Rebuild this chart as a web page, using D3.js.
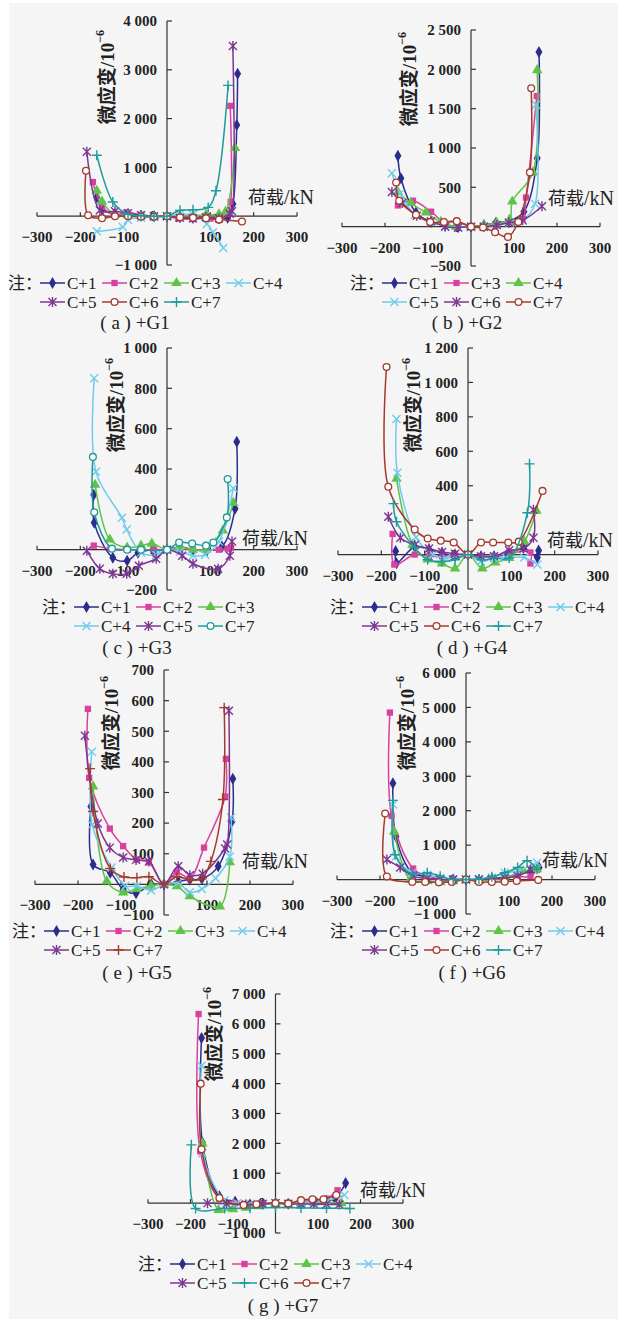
<!DOCTYPE html>
<html>
<head>
<meta charset="utf-8">
<script src="https://cdn.jsdelivr.net/npm/d3@7"></script>
<style>
  body { margin: 0; background: #fff; }
</style>
</head>
<body>
<svg id="chart" width="631" height="1319"></svg>
<script>
// ---- data: each series is a list of [load kN, micro strain] ----
const xTicks = [-300, -200, -100, 100, 200, 300];

const labelsG1 = ["C+1", "C+2", "C+3", "C+4", "C+5", "C+6", "C+7"];
const yTicksG1 = [-1000, 0, 1000, 2000, 3000, 4000];
const seriesG1 = [
  [[-162,390],[-150,150],[-120,40],[-90,10],[-60,10],[-30,0],[0,0],[30,-10],[60,-30],[90,-20],[120,-40],[140,-30],[152,250],[161,1870],[163,2920]],
  [[-171,700],[-150,200],[-120,25],[-93,80],[-60,30],[-30,0],[0,0],[26,-50],[60,-60],[100,-50],[120,-80],[140,50],[147,290],[146,2260]],
  [[-162,520],[-150,300],[-120,30],[-90,20],[-60,10],[-30,0],[0,0],[30,0],[60,10],[90,30],[120,40],[135,90],[157,1400]],
  [[-162,-310],[-102,-220],[-90,-80],[-60,-30],[-30,-10],[0,0],[30,40],[60,30],[92,-160],[106,-330],[130,-650]],
  [[-185,1320],[-155,120],[-120,100],[-90,60],[-60,20],[-30,0],[0,0],[30,-30],[60,-40],[90,-20],[120,-40],[145,50],[150,100],[152,3490]],
  [[-187,930],[-182,20],[-150,-40],[-120,0],[-90,0],[-60,-10],[-30,-10],[0,0],[30,-20],[60,-30],[90,-40],[120,-70],[173,-110]],
  [[-162,1250],[-125,290],[-90,40],[-60,10],[-30,0],[0,0],[30,120],[60,130],[95,180],[113,520],[141,2680]]
];

const labelsG2 = ["C+1", "C+3", "C+4", "C+5", "C+6", "C+7"];
const yTicksG2 = [-500, 0, 500, 1000, 1500, 2000, 2500];
const seriesG2 = [
  [[-170,900],[-163,615],[-128,180],[-93,60],[-60,20],[-30,0],[0,0],[30,20],[58,50],[88,70],[123,190],[154,870],[158,2220]],
  [[-170,270],[-135,330],[-93,190],[-63,60],[-33,60],[0,0],[28,-10],[60,20],[90,60],[120,100],[128,370],[153,1660]],
  [[-170,440],[-140,300],[-105,180],[-70,60],[-35,0],[0,0],[30,20],[60,50],[90,90],[96,320],[144,690],[154,1990]],
  [[-184,680],[-165,420],[-130,150],[-93,60],[-60,10],[-30,-10],[0,0],[30,0],[60,20],[90,50],[120,80],[149,290],[151,1550]],
  [[-184,440],[-160,300],[-126,140],[-93,70],[-60,0],[-30,-10],[0,0],[30,0],[60,20],[88,50],[120,80],[165,260]],
  [[-174,560],[-167,330],[-128,150],[-95,60],[-63,60],[-33,70],[0,0],[28,-10],[56,-70],[86,-130],[110,60],[137,690],[140,1760]]
];

const labelsG3 = ["C+1", "C+2", "C+3", "C+4", "C+5", "C+7"];
const yTicksG3 = [-200, 0, 200, 400, 600, 800, 1000];
const seriesG3 = [
  [[-169,272],[-168,134],[-125,-40],[-92,-55],[-67,-15],[-30,0],[0,0],[30,15],[60,0],[92,-5],[127,15],[157,203],[161,535]],
  [[-169,20],[-130,5],[-90,0],[-60,0],[-30,0],[0,0],[30,5],[60,0],[90,0],[120,0],[140,5],[148,10]],
  [[-166,322],[-132,50],[-92,10],[-60,20],[-35,30],[0,0],[30,15],[60,0],[90,0],[129,95],[153,232]],
  [[-168,850],[-164,386],[-104,158],[-93,100],[-60,-15],[-25,-25],[0,0],[30,-10],[60,-30],[88,-25],[120,40],[153,305]],
  [[-185,-5],[-155,-95],[-125,-120],[-93,-120],[-65,-80],[-25,-45],[0,0],[35,-30],[60,-70],[118,-95],[145,-30],[150,40]],
  [[-171,460],[-168,185],[-127,5],[-92,0],[-60,0],[0,0],[28,35],[58,30],[90,20],[107,35],[138,160],[140,350]]
];

const labelsG4 = ["C+1", "C+2", "C+3", "C+4", "C+5", "C+6", "C+7"];
const yTicksG4 = [-200, 0, 200, 400, 600, 800, 1000, 1200];
const seriesG4 = [
  [[-167,20],[-165,-50],[-123,46],[-90,30],[-60,10],[-30,-10],[0,0],[30,-10],[60,-10],[90,0],[128,40],[160,-17],[163,23]],
  [[-174,120],[-170,-58],[-123,0],[-90,-10],[-60,-10],[-30,-5],[0,0],[30,-10],[60,-10],[100,10],[144,12],[144,-52]],
  [[-165,440],[-128,58],[-93,-29],[-60,-52],[-30,-81],[0,0],[33,-81],[63,-46],[95,-20],[130,75],[158,255]],
  [[-165,788],[-163,475],[-120,100],[-80,0],[-50,-20],[0,0],[30,-40],[60,-20],[87,-17],[130,-17],[160,-58]],
  [[-184,220],[-156,98],[-123,55],[-90,35],[-60,15],[-30,5],[0,0],[30,-10],[60,-10],[95,25],[128,35],[151,98],[151,260]],
  [[-188,1090],[-184,394],[-123,145],[-93,93],[-63,81],[-33,70],[0,0],[30,70],[58,70],[93,70],[117,75],[172,370]],
  [[-172,296],[-165,191],[-123,40],[-93,-30],[-60,-40],[-30,-30],[0,0],[33,-30],[60,-20],[95,-20],[137,243],[142,527]]
];

const labelsG5 = ["C+1", "C+2", "C+3", "C+4", "C+5", "C+7"];
const yTicksG5 = [-100, 0, 100, 200, 300, 400, 500, 600, 700];
const seriesG5 = [
  [[-170,254],[-165,65],[-125,38],[-95,-16],[-65,-29],[-30,0],[0,0],[33,10],[60,15],[88,18],[126,59],[158,205],[160,345]],
  [[-177,573],[-174,348],[-126,182],[-95,125],[-63,81],[-35,72],[0,0],[30,39],[60,20],[93,120],[142,287],[144,410]],
  [[-165,320],[-133,10],[-95,-26],[-63,-15],[-30,-5],[0,0],[30,-6],[60,-39],[130,-72],[153,72]],
  [[-168,433],[-167,195],[-122,55],[-90,-5],[-63,-5],[-30,-20],[0,0],[33,5],[60,-26],[88,-15],[120,20],[153,91],[156,218]],
  [[-184,485],[-154,199],[-126,120],[-95,88],[-65,80],[-35,75],[0,0],[33,59],[60,30],[90,35],[142,117],[147,130],[151,567]],
  [[-172,378],[-165,238],[-125,52],[-93,24],[-63,22],[-35,25],[0,0],[30,25],[60,15],[88,18],[109,75],[137,277],[140,577]]
];

const labelsG6 = ["C+1", "C+2", "C+3", "C+4", "C+5", "C+6", "C+7"];
const yTicksG6 = [-1000, 0, 1000, 2000, 3000, 4000, 5000, 6000];
const seriesG6 = [
  [[-170,2800],[-163,1250],[-125,200],[-90,80],[-60,0],[-30,0],[0,0],[30,-10],[60,20],[90,80],[120,150],[150,250],[170,350]],
  [[-177,4850],[-173,1850],[-123,320],[-90,100],[-60,30],[-30,0],[0,0],[30,-10],[60,0],[90,50],[120,80],[150,100],[165,300]],
  [[-167,1390],[-130,0],[-90,-50],[-60,-80],[-30,-50],[0,0],[30,-40],[60,0],[90,50],[133,250],[165,300]],
  [[-170,2180],[-163,670],[-125,200],[-90,150],[-60,50],[-30,0],[0,0],[30,20],[60,60],[90,200],[120,250],[165,490]],
  [[-184,580],[-153,350],[-123,100],[-90,30],[-60,0],[-30,0],[0,0],[30,0],[60,20],[90,50],[120,100],[150,290]],
  [[-188,1920],[-184,90],[-125,-70],[-95,-70],[-63,-80],[-33,-70],[0,0],[30,-70],[60,-70],[90,-60],[118,-40],[168,-10]],
  [[-170,2300],[-165,720],[-125,150],[-90,200],[-60,100],[-30,0],[0,0],[30,10],[60,80],[90,200],[120,350],[142,550],[165,300]]
];

const labelsG7 = ["C+1", "C+2", "C+3", "C+4", "C+5", "C+6", "C+7"];
const yTicksG7 = [-1000, 0, 1000, 2000, 3000, 4000, 5000, 6000, 7000];
const seriesG7 = [
  [[-174,5530],[-172,2030],[-132,230],[-95,50],[-60,-50],[-30,-30],[0,0],[30,-20],[60,0],[90,50],[120,80],[140,150],[165,670]],
  [[-181,6330],[-177,1730],[-132,150],[-95,0],[-60,-50],[-30,-30],[0,0],[30,0],[60,50],[90,100],[120,150],[146,430]],
  [[-172,2000],[-134,-230],[-100,-200],[-70,-150],[-40,-100],[0,0],[30,-20],[60,0],[90,20],[120,30],[155,0]],
  [[-174,4600],[-172,1670],[-120,100],[-90,0],[-60,-30],[-30,-20],[0,0],[30,-10],[60,20],[90,40],[120,80],[162,270]],
  [[-160,0],[-115,-20],[-70,-50],[-30,-30],[0,0],[30,-30],[60,-20],[90,-30],[120,-40],[150,-50]],
  [[-198,1950],[-188,-180],[-120,-180],[-60,-170],[0,-150],[60,-160],[120,-170],[175,-180]],
  [[-176,4000],[-174,1800],[-132,170],[-75,-60],[-45,-40],[0,0],[30,-10],[60,100],[87,130],[113,130],[143,270]]
];

// ---- styles and layout ----
const colors = {
  navy: "#2b2d8e", magenta: "#d8419f", green: "#5dc448", cyan: "#6fcbec",
  purple: "#7c3692", red: "#a43a2d", teal: "#1d9b9b"
};
const S = {
  C1: ["navy", "diamond"], C2: ["magenta", "square"], C3: ["green", "triangle"],
  C4: ["cyan", "x"], C5: ["purple", "asterisk"], C6: ["red", "circle"], C7: ["teal", "plus"]
};

const panels = [
  { cap: "( a ) +G1", labels: labelsG1, series: seriesG1, yTicks: yTicksG1,
    styles: [S.C1, S.C2, S.C3, S.C4, S.C5, S.C6, S.C7],
    xr: [37, 297], yr: [265, 21], title: [114, 30], load: [248, 204],
    leg: { x: 8, rows: [283, 302], split: 4, cap: [135, 329] } },
  { cap: "( b ) +G2", labels: labelsG2, series: seriesG2, yTicks: yTicksG2,
    styles: [S.C1, S.C2, S.C3, S.C4, S.C5, S.C6],
    xr: [342, 600], yr: [266, 30], title: [416, 32], load: [548, 205],
    leg: { x: 350, rows: [283, 302], split: 3, cap: [467, 329] } },
  { cap: "( c ) +G3", labels: labelsG3, series: seriesG3, yTicks: yTicksG3,
    styles: [S.C1, S.C2, S.C3, S.C4, S.C5, ["teal", "circle"]],
    xr: [37, 297], yr: [590, 348], title: [123, 358], load: [242, 545],
    leg: { x: 42, rows: [607, 626], split: 3, cap: [137, 654] } },
  { cap: "( d ) +G4", labels: labelsG4, series: seriesG4, yTicks: yTicksG4,
    styles: [S.C1, S.C2, S.C3, S.C4, S.C5, S.C6, S.C7],
    xr: [338, 598], yr: [589, 348], title: [420, 358], load: [547, 547],
    leg: { x: 330, rows: [607, 626], split: 4, cap: [472, 654] } },
  { cap: "( e ) +G5", labels: labelsG5, series: seriesG5, yTicks: yTicksG5,
    styles: [S.C1, S.C2, S.C3, S.C4, S.C5, ["red", "plus"]],
    xr: [35, 293], yr: [915, 670], title: [118, 676], load: [242, 868],
    leg: { x: 12, rows: [931, 950], split: 4, cap: [137, 979] } },
  { cap: "( f ) +G6", labels: labelsG6, series: seriesG6, yTicks: yTicksG6,
    styles: [S.C1, S.C2, S.C3, S.C4, S.C5, S.C6, S.C7],
    xr: [337, 595], yr: [914, 673], title: [414, 676], load: [542, 867],
    leg: { x: 330, rows: [931, 950], split: 4, cap: [472, 979] } },
  { cap: "( g ) +G7", labels: labelsG7, series: seriesG7, yTicks: yTicksG7,
    styles: [S.C1, S.C2, S.C3, S.C4, S.C5, S.C7, S.C6],
    xr: [148, 403], yr: [1233, 994], title: [221, 987], load: [360, 1197],
    leg: { x: 138, rows: [1264, 1283], split: 4, cap: [283, 1312] } }
];

const serif = "'Liberation Serif', 'DejaVu Serif', serif";
const cjk = "'Noto Sans CJK SC', sans-serif";
const fmt = (d) => d3.format(",")(d).replace(/,/g, " ");

const svg = d3.select("#chart");
svg.append("rect").attr("x", 9).attr("y", 3).attr("width", 609).attr("height", 1316).attr("fill", "#f5f5f5");

function marker(g, type, color, x, y) {
  const t = `translate(${x},${y})`;
  if (type === "diamond") {
    g.append("path").attr("d", d3.symbol(d3.symbolDiamond, 42)()).attr("transform", t).attr("fill", color);
  } else if (type === "square") {
    g.append("path").attr("d", d3.symbol(d3.symbolSquare, 40)()).attr("transform", t).attr("fill", color);
  } else if (type === "triangle") {
    g.append("path").attr("d", d3.symbol(d3.symbolTriangle, 48)()).attr("transform", t).attr("fill", color);
  } else if (type === "circle") {
    g.append("circle").attr("cx", x).attr("cy", y).attr("r", 3.4)
      .attr("fill", "#fff").attr("stroke", color).attr("stroke-width", 1.3);
  } else {
    const d = type === "x" ? "M-4,-4L4,4M-4,4L4,-4"
      : type === "asterisk" ? "M-4,-4L4,4M-4,4L4,-4M0,-5V5"
      : "M-5,0H5M0,-5V5";
    g.append("path").attr("d", d).attr("transform", t)
      .attr("fill", "none").attr("stroke", color).attr("stroke-width", 1.4);
  }
}

panels.forEach((p) => {
  const g = svg.append("g");
  const yDom = d3.extent(p.yTicks);
  const x = d3.scaleLinear().domain([-300, 300]).range(p.xr);
  const y = d3.scaleLinear().domain(yDom).range(p.yr);
  const x0 = x(0), y0 = y(0);

  // axes
  const ax = g.append("g").attr("stroke", "#333").attr("stroke-width", 1.2);
  ax.append("line").attr("x1", x(-300)).attr("x2", x(300)).attr("y1", y0).attr("y2", y0);
  ax.append("line").attr("x1", x0).attr("x2", x0).attr("y1", y(yDom[0])).attr("y2", y(yDom[1]));
  [-300, -200, -100, 0, 100, 200, 300].forEach((t) => {
    ax.append("line").attr("x1", x(t)).attr("x2", x(t)).attr("y1", y0 - 4).attr("y2", y0);
  });
  p.yTicks.forEach((t) => {
    ax.append("line").attr("x1", x0).attr("x2", x0 + 5).attr("y1", y(t)).attr("y2", y(t));
  });

  g.selectAll(".xt").data(xTicks).join("text")
    .attr("x", (d) => x(d)).attr("y", y0 + 26)
    .attr("text-anchor", "middle").attr("font-family", serif).attr("font-weight", "bold")
    .attr("font-size", 15).attr("fill", "#222").text(fmt);
  g.selectAll(".yt").data(p.yTicks).join("text")
    .attr("x", x0 - 10).attr("y", (d) => y(d)).attr("dy", "0.35em")
    .attr("text-anchor", "end").attr("font-family", serif).attr("font-weight", "bold")
    .attr("font-size", 15).attr("fill", "#222").text(fmt);

  // axis titles
  const tt = g.append("text").attr("transform", `translate(${p.title[0]},${p.title[1]}) rotate(-90)`)
    .attr("text-anchor", "end").attr("font-size", 19).attr("font-weight", "bold").attr("fill", "#222");
  tt.append("tspan").attr("font-family", cjk).text("微应变");
  tt.append("tspan").attr("font-family", serif).text("/10");
  tt.append("tspan").attr("font-family", serif).attr("font-size", 12).attr("dy", "-0.8em").text("−6");

  const lt = g.append("text").attr("x", p.load[0]).attr("y", p.load[1]).attr("font-size", 18).attr("fill", "#222");
  lt.append("tspan").attr("font-family", cjk).text("荷载");
  lt.append("tspan").attr("font-family", serif).attr("font-size", 20).text("/kN");

  // series
  const line = d3.line().x((d) => x(d[0])).y((d) => y(d[1])).curve(d3.curveCatmullRom.alpha(0.5));
  p.series.forEach((s, i) => {
    const [ck, mk] = p.styles[i];
    const c = colors[ck];
    g.append("path").datum(s).attr("d", line).attr("fill", "none")
      .attr("stroke", c).attr("stroke-width", 1.5);
    s.forEach((d) => marker(g, mk, c, x(d[0]), y(d[1])));
  });

  // legend
  const L = p.leg;
  g.append("text").attr("x", L.x).attr("y", L.rows[0] + 6).attr("font-family", cjk)
    .attr("font-size", 17).attr("fill", "#222").text("注：");
  p.labels.forEach((lab, i) => {
    const row = i < L.split ? 0 : 1;
    const col = row === 0 ? i : i - L.split;
    const lx = L.x + 32 + col * 62;
    const ly = L.rows[row];
    const [ck, mk] = p.styles[i];
    g.append("line").attr("x1", lx).attr("x2", lx + 25).attr("y1", ly).attr("y2", ly)
      .attr("stroke", colors[ck]).attr("stroke-width", 1.5);
    marker(g, mk, colors[ck], lx + 12.5, ly);
    g.append("text").attr("x", lx + 27).attr("y", ly + 6).attr("font-family", serif)
      .attr("font-size", 17).attr("fill", "#222").text(lab);
  });
  g.append("text").attr("x", L.cap[0]).attr("y", L.cap[1]).attr("text-anchor", "middle")
    .attr("font-family", serif).attr("font-size", 19).attr("fill", "#222").text(p.cap);
});
</script>
</body>
</html>
